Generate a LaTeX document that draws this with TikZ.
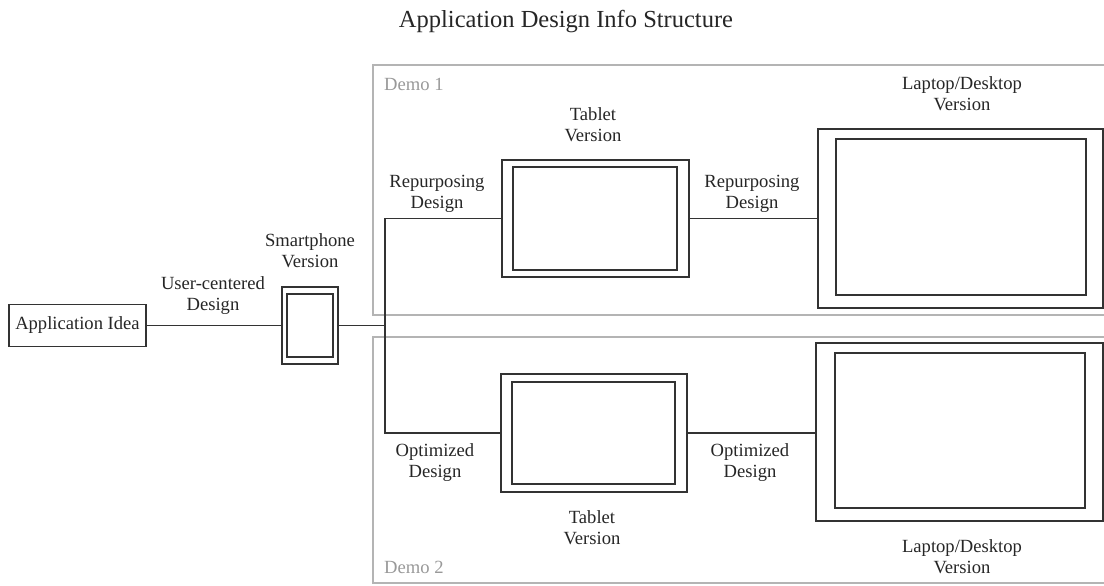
\documentclass[tikz,border=0pt]{standalone}
\usepackage{fontspec}
\setmainfont{Liberation Serif}
\definecolor{ink}{HTML}{262626}
\definecolor{wire}{HTML}{333333}
\definecolor{framegray}{HTML}{B4B4B4}
\definecolor{demogray}{HTML}{999999}
\tikzset{
  lbl/.style={align=center, inner sep=0pt, text=ink,
    font=\fontsize{18.6}{21}\selectfont,
    execute at begin node=\strut, execute at end node=\strut},
  demolbl/.style={lbl, anchor=west, text=demogray},
  device/.style={draw=wire, line width=1.7pt, rectangle, inner sep=0pt, fill=white},
  screen/.style={draw=wire, line width=1.7pt, rectangle, inner sep=0pt},
  link/.style={draw=wire, line width=1.8pt},
  demoframe/.style={draw=framegray, line width=1.6pt}
}
\begin{document}
\begin{tikzpicture}[x=1pt, y=-1pt]
\useasboundingbox (0,0) rectangle (1104,586);
\clip (0,0) rectangle (1104,586);

% title
\node[anchor=base, inner sep=0pt, text=ink, font=\fontsize{24.5}{28}\selectfont]
  (title) at (566,28) {Application Design Info Structure};

% demo containers (open towards the right edge)
\draw[demoframe] (373,65) rectangle (1120,315);
\draw[demoframe] (373,337) rectangle (1120,583);
\node[demolbl] (demoA) at (384,86) {Demo 1};
\node[demolbl] (demoB) at (384,569) {Demo 2};

% idea
\node[device, minimum width=137pt, minimum height=42pt, lbl, draw=wire, line width=1.7pt]
  (idea) at (77.5,325.5) {Application Idea};

% smartphone
\node[device, minimum width=56pt, minimum height=77pt] (phone) at (310,325.5) {};
\node[screen, minimum width=46pt, minimum height=63pt] (phoneIn) at (310,325.5) {};
\node[lbl] (phoneLbl) at (310,254) {Smartphone\\Version};
\node[lbl] (ucdLbl) at (213,296.5) {User-centered\\Design};

% tablets
\node[device, minimum width=187pt, minimum height=117pt] (tabA) at (595.5,218.5) {};
\node[screen, minimum width=164pt, minimum height=103pt] (tabAin) at (595,218.5) {};
\node[lbl] (tabALbl) at (593,128) {Tablet\\Version};

\node[device, minimum width=186pt, minimum height=118pt] (tabB) at (594,433) {};
\node[screen, minimum width=163pt, minimum height=102pt] (tabBin) at (593.5,433) {};
\node[lbl] (tabBLbl) at (592,531) {Tablet\\Version};

% laptops / desktops
\node[device, minimum width=285pt, minimum height=179pt] (lapA) at (960.5,218.5) {};
\node[screen, minimum width=250pt, minimum height=156pt] (lapAin) at (961,217) {};
\node[lbl] (lapALbl) at (962,97) {Laptop/Desktop\\Version};

\node[device, minimum width=287pt, minimum height=178pt] (lapB) at (959.5,432) {};
\node[screen, minimum width=250pt, minimum height=155pt] (lapBin) at (960,430.5) {};
\node[lbl] (lapBLbl) at (962,559.5) {Laptop/Desktop\\Version};

% design step labels
\node[lbl] (repA) at (437,194.5) {Repurposing\\Design};
\node[lbl] (repB) at (752,194.5) {Repurposing\\Design};
\node[lbl] (optA) at (435,463.5) {Optimized\\Design};
\node[lbl] (optB) at (750,463.5) {Optimized\\Design};

% connectors
\coordinate (split) at (385,325.5);
\draw[link] (idea.east) -- (phone.west);
\draw[link] (phone.east) -- (split);
\draw[link] (tabA.west) -| (split) |- (tabB.west);
\draw[link] (tabA.east) -- (tabA.east -| lapA.west);
\draw[link] (tabB.east) -- (tabB.east -| lapB.west);
\end{tikzpicture}
\end{document}
